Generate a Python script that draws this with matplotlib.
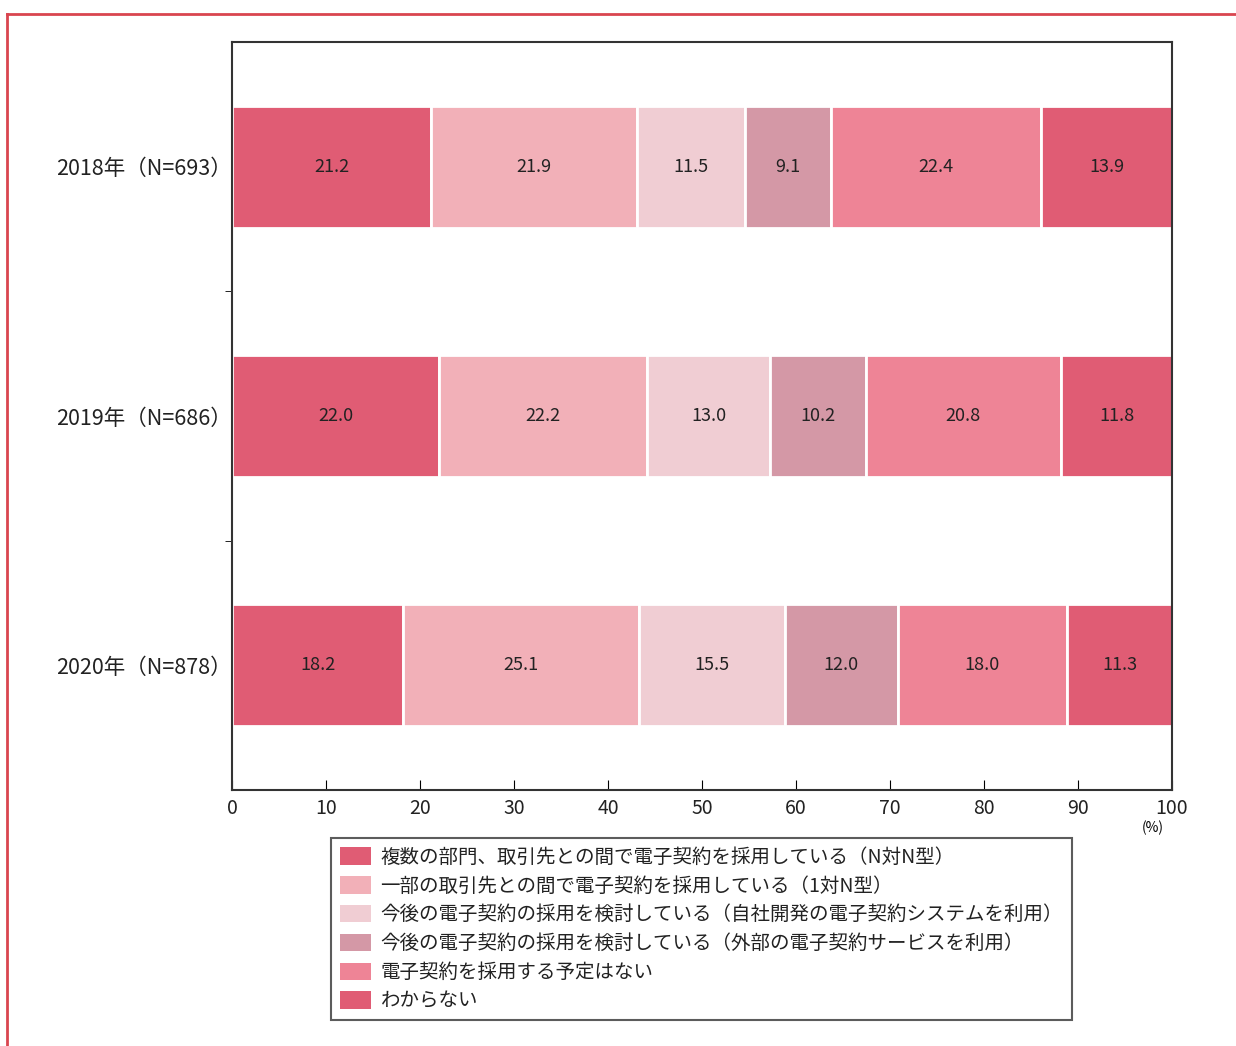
import numpy as np
import matplotlib.pyplot as plt
from matplotlib.lines import Line2D

plt.rcParams['font.family'] = ['Noto Sans CJK JP', 'DejaVu Sans']

years = ["2018年（N=693）", "2019年（N=686）", "2020年（N=878）"]
categories = [
    "複数の部門、取引先との間で電子契約を採用している（N対N型）",
    "一部の取引先との間で電子契約を採用している（1対N型）",
    "今後の電子契約の採用を検討している（自社開発の電子契約システムを利用）",
    "今後の電子契約の採用を検討している（外部の電子契約サービスを利用）",
    "電子契約を採用する予定はない",
    "わからない",
]
values = [
    [21.2, 22.0, 18.2],
    [21.9, 22.2, 25.1],
    [11.5, 13.0, 15.5],
    [9.1, 10.2, 12.0],
    [22.4, 20.8, 18.0],
    [13.9, 11.8, 11.3],
]
colors = ["#E05C74", "#F2B0B8", "#F0CDD3", "#D498A6", "#EE8496", "#E05C74"]

fig = plt.figure(figsize=(12.36, 10.46), dpi=100)
ax = fig.add_axes([232 / 1236, 1 - 790 / 1046, 940 / 1236, 748 / 1046])

y = np.arange(len(years))
left = np.zeros(len(years))
for cat, vals, col in zip(categories, values, colors):
    vals = np.array(vals)
    ax.barh(y, vals, left=left, height=0.49, color=col, edgecolor="white",
            linewidth=2, label=cat)
    for yi, l, v in zip(y, left, vals):
        ax.text(l + v / 2, yi, f"{v:.1f}", ha="center", va="center",
                fontsize=13, color="#222222")
    left += vals

ax.set_xlim(0, 100)
ax.set_ylim(2.5, -0.5)
ax.set_xticks(np.arange(0, 101, 10))
ax.tick_params(axis="x", direction="in", length=7, labelsize=14, pad=6,
               labelcolor="#222222")
ax.set_yticks(y)
ax.set_yticklabels(years, fontsize=15.5, color="#222222")
ax.tick_params(axis="y", length=0, pad=0)
ax.set_yticks([0.5, 1.5], minor=True)
ax.tick_params(axis="y", which="minor", length=5, direction="out")
for s in ax.spines.values():
    s.set_color("#333333")
    s.set_linewidth(1.5)

fig.text(1153 / 1236, 1 - 828 / 1046, "(%)", ha="center", va="center", fontsize=10)

leg = fig.legend(loc="upper left", bbox_to_anchor=(331 / 1236, 1 - 838 / 1046),
                 fontsize=14, frameon=True, fancybox=False, edgecolor="#333333",
                 handlelength=1.6, handleheight=1.0, labelspacing=0.4,
                 borderpad=0.45, handletextpad=0.5, borderaxespad=0)
leg.get_frame().set_linewidth(1.5)
for t in leg.get_texts():
    t.set_color("#222222")
for h in leg.legend_handles:
    h.set_edgecolor("none")

# red outer frame
red = "#D9454F"
fig.add_artist(Line2D([7 / 1236, 7 / 1236], [0, 1 - 14 / 1046], color=red, lw=2,
                      transform=fig.transFigure))
fig.add_artist(Line2D([7 / 1236, 1], [1 - 14 / 1046, 1 - 14 / 1046], color=red, lw=2,
                      transform=fig.transFigure))

fig.savefig("out.png", dpi=100)
